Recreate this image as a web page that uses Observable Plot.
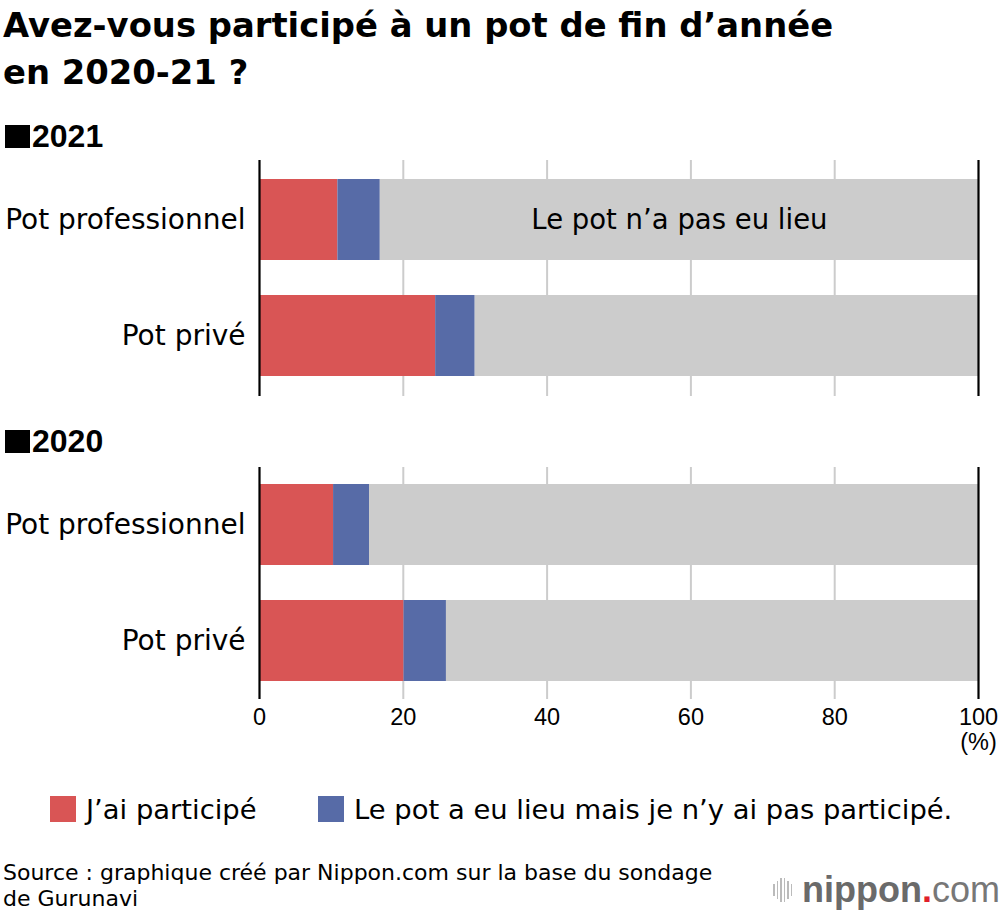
<!DOCTYPE html>
<html>
<head>
<meta charset="utf-8">
<script src="https://cdn.jsdelivr.net/npm/d3@7"></script>
<script src="https://cdn.jsdelivr.net/npm/@observablehq/plot@0.6"></script>
<style>
  html, body { margin: 0; padding: 0; background: #fff; }
  body { width: 1000px; height: 916px; position: relative; overflow: hidden;
         font-family: "DejaVu Sans", "Liberation Sans", Arial, sans-serif; color: #000; }
  .abs { position: absolute; }
  .title { left: 3px; top: 2px; font-size: 33.8px; font-weight: bold; line-height: 47px; white-space: nowrap; }
  .year { left: 5px; font-family: "Liberation Sans", Arial, sans-serif; font-size: 32px; font-weight: bold; line-height: 32px; }
  .year .sq { display: inline-block; width: 25px; height: 23px; background: #000; margin-right: 2px; vertical-align: -1px; }
  .legend { top: 794px; font-size: 27.4px; line-height: 32px; white-space: nowrap; }
  .legend .sw { display: inline-block; width: 26px; height: 26px; vertical-align: -3px; margin-right: 10px; }
  .source { left: 3px; top: 860px; font-size: 22px; line-height: 26px; white-space: nowrap; }
  .logo { left: 773px; top: 868px; font-family: "Liberation Sans", Arial, sans-serif; font-size: 36px; line-height: 40px; color: #6a6a6a; white-space: nowrap; }
  .logo .b { font-weight: bold; }
  .logo .dot { color: #e0202a; font-weight: bold; }
  .logo .c { font-weight: normal; color: #777; }
  .bars { display: inline-block; vertical-align: 2px; margin-right: 8px; }
  .bars i { display: inline-block; width: 1.5px; background: #bbb; margin-right: 2px; vertical-align: middle; }
</style>
</head>
<body>
<div class="abs title">Avez-vous participé à un pot de fin d’année<br>en 2020-21 ?</div>
<div class="abs year" style="top:120px"><span class="sq"></span>2021</div>
<div id="chart2021" class="abs" style="left:0; top:160px;"></div>
<div class="abs year" style="top:425px"><span class="sq"></span>2020</div>
<div id="chart2020" class="abs" style="left:0; top:467px;"></div>
<div id="legend"></div>
<div class="abs source">Source : graphique créé par Nippon.com sur la base du sondage<br>de Gurunavi</div>
<div class="abs logo"><span class="bars"><i style="height:12px"></i><i style="height:18px"></i><i style="height:24px"></i><i style="height:24px"></i><i style="height:18px"></i><i style="height:12px"></i></span><span class="b">nippon</span><span class="dot">.</span><span class="c">com</span></div>
<script>
// ---- data ----
const categories = ["Pot professionnel", "Pot privé"];
const seriesNames = ["J’ai participé", "Le pot a eu lieu mais je n’y ai pas participé.", "Le pot n’a pas eu lieu"];
const seriesColors = ["#d95555", "#576ba7", "#cccccc"];
const participated2021 = [10.9, 24.5];
const notParticipated2021 = [5.9, 5.5];
const noPot2021 = [83.2, 70.0];
const participated2020 = [10.3, 20.1];
const notParticipated2020 = [5.0, 5.9];
const noPot2020 = [84.7, 74.0];
const xTicks = [0, 20, 40, 60, 80, 100];
const gridTicks = [20, 40, 60, 80];
const frameTicks = [0, 100];
const unitLabel = "(%)";
const insideLabel = "Le pot n’a pas eu lieu";

function rowsFor(year, a, b, c) {
  const out = [];
  categories.forEach((cat, i) => {
    [a, b, c].forEach((arr, s) => out.push({year, category: cat, series: seriesNames[s], value: arr[i]}));
  });
  return out;
}
const rows2021 = rowsFor("2021", participated2021, notParticipated2021, noPot2021);
const rows2020 = rowsFor("2020", participated2020, notParticipated2020, noPot2020);

const labelFont = '"DejaVu Sans", "Liberation Sans", Arial, sans-serif';
const tickFont = '"Liberation Sans", Arial, sans-serif';

function chart(rows, withAxis, withLabel) {
  const plotH = withAxis ? 232 : 236;
  const mb = withAxis ? 76 : 0;
  const marks = [
    Plot.ruleX(gridTicks, {stroke: "#cccccc", strokeWidth: 2}),
    Plot.barX(rows, {x: "value", y: "category", fill: "series", order: null}),
    Plot.ruleX(frameTicks, {stroke: "#000", strokeWidth: 2.2}),
    Plot.axisY({tickSize: 0, tickPadding: 14, fontSize: 28, label: null, fill: "#000", fontFamily: labelFont})
  ];
  if (withLabel) {
    marks.push(Plot.text(rows, Plot.stackX({
      x: "value", y: "category", order: null,
      text: d => (d.category === categories[0] && d.series === seriesNames[2]) ? insideLabel : null,
      fontSize: 27.5, fill: "#000", fontFamily: labelFont
    })));
  }
  if (withAxis) {
    marks.push(Plot.axisX({ticks: xTicks, tickSize: 0, tickPadding: 9, fontSize: 23.5, label: null, fill: "#000", fontFamily: tickFont}));
    marks.push(Plot.text([unitLabel], {x: [100], frameAnchor: "bottom", dy: 50, fontSize: 23.5, fill: "#000", fontFamily: tickFont}));
  }
  return Plot.plot({
    width: 1000,
    height: plotH + mb,
    marginLeft: 259,
    marginRight: 22,
    marginTop: 0,
    marginBottom: mb,
    style: {fontFamily: labelFont, color: "#000", background: "transparent", overflow: "visible"},
    x: {domain: [0, 100], axis: null},
    y: {domain: categories, paddingInner: 0.3, paddingOuter: withAxis ? 0.15 : 0.16, axis: null},
    color: {domain: seriesNames, range: seriesColors},
    marks
  });
}

document.getElementById("chart2021").appendChild(chart(rows2021, false, true));
document.getElementById("chart2020").appendChild(chart(rows2020, true, false));

// legend (first two series)
const legend = document.getElementById("legend");
const legendLeft = [50, 318];
seriesNames.slice(0, 2).forEach((name, i) => {
  const item = document.createElement("div");
  item.className = "abs legend";
  item.style.left = legendLeft[i] + "px";
  item.innerHTML = `<span class="sw" style="background:${seriesColors[i]}"></span>${name}`;
  legend.appendChild(item);
});
</script>
</body>
</html>
